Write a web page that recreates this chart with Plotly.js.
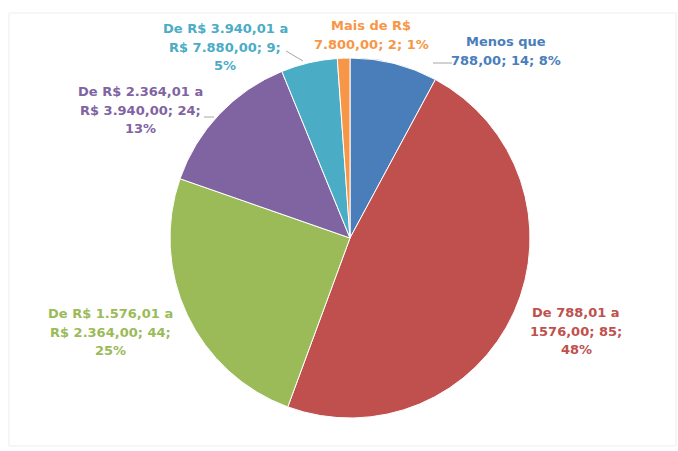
<!DOCTYPE html>
<html>
<head>
<meta charset="utf-8">
<script src="https://cdn.plot.ly/plotly-3.0.1.min.js"></script>
<style>html,body{margin:0;padding:0;background:#fff;}#chart{width:678px;height:451px;}</style>
</head>
<body>
<div id="chart"></div>
<script>
const categories = [
  "Menos que 788,00",
  "De 788,01 a 1576,00",
  "De R$ 1.576,01 a R$ 2.364,00",
  "De R$ 2.364,01 a R$ 3.940,00",
  "De R$ 3.940,01 a R$ 7.880,00",
  "Mais de R$ 7.800,00"
];
const values = [14, 85, 44, 24, 9, 2];
const colors = ["#4A7EBB", "#C0504D", "#9BBB59", "#8064A2", "#4BACC6", "#F79646"];

const total = values.reduce((a, b) => a + b, 0);
const pct = values.map(v => Math.round(100 * v / total));

// label lines (line breaks as in the picture)
const labelLines = [
  ["Menos que", "788,00; " + values[0] + "; " + pct[0] + "%"],
  ["De 788,01 a", "1576,00; " + values[1] + ";", pct[1] + "%"],
  ["De R$ 1.576,01 a", "R$ 2.364,00; " + values[2] + ";", pct[2] + "%"],
  ["De R$ 2.364,01 a", "R$ 3.940,00; " + values[3] + ";", pct[3] + "%"],
  ["De R$ 3.940,01 a", "R$ 7.880,00; " + values[4] + ";", pct[4] + "%"],
  ["Mais de R$", "7.800,00; " + values[5] + "; " + pct[5] + "%"]
];
// label centre positions in pixels
const labelPos = [[506, 51], [576, 331], [110, 332], [140, 110], [225, 47], [371, 35]];
const lineGap = 18.5;

const W = 678, H = 451;
const px = x => x / W, py = y => 1 - y / H;

const cx = 350, cy = 238, r = 180;

const trace = {
  type: "pie",
  labels: categories,
  values: values,
  sort: false,
  direction: "clockwise",
  rotation: 0,
  marker: {colors: colors, line: {color: "#ffffff", width: 1}},
  textinfo: "none",
  hoverinfo: "label+value+percent",
  showlegend: false,
  domain: {x: [px(cx - r), px(cx + r)], y: [py(cy + r), py(cy - r)]}
};

const annotations = [];
labelLines.forEach((lines, i) => {
  const n = lines.length;
  lines.forEach((t, k) => {
    annotations.push({
      text: t,
      x: px(labelPos[i][0]), y: py(labelPos[i][1] + (k - (n - 1) / 2) * lineGap),
      xref: "paper", yref: "paper",
      xanchor: "center", yanchor: "middle",
      showarrow: false,
      font: {family: "DejaVu Sans, sans-serif", size: 13, color: colors[i], weight: "bold"}
    });
  });
});

const line = (x0, y0, x1, y1) => ({
  type: "line", xref: "paper", yref: "paper",
  x0: px(x0), y0: py(y0), x1: px(x1), y1: py(y1),
  line: {color: "#a6a6a6", width: 1}
});

const layout = {
  width: W, height: H,
  margin: {l: 0, r: 0, t: 0, b: 0},
  paper_bgcolor: "#ffffff",
  annotations: annotations,
  shapes: [
    {type: "rect", xref: "paper", yref: "paper", x0: px(9), y0: py(446), x1: px(676), y1: py(13),
     line: {color: "#ededed", width: 1}},
    line(286, 51, 303, 61),
    line(204, 117, 214, 117),
    line(433, 63, 452, 63)
  ]
};

Plotly.newPlot("chart", [trace], layout, {staticPlot: true});
</script>
</body>
</html>
